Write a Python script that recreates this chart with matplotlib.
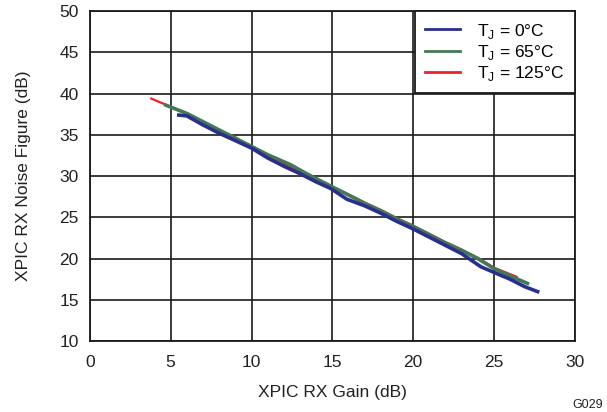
import numpy as np
import matplotlib.pyplot as plt

plt.rcParams['font.family'] = ['Liberation Sans', 'DejaVu Sans']
plt.rcParams['mathtext.fontset'] = 'custom'
plt.rcParams['mathtext.rm'] = 'Liberation Sans'

# T_J = 0 C
gain_0 = [5.5, 6.0, 7.0, 8.0, 9.0, 10.0, 11.0, 12.0, 13.0, 14.0, 14.9, 15.9, 17.0, 18.0,
          19.0, 20.0, 21.0, 22.0, 23.0, 24.2, 25.4, 26.0, 26.9, 27.7]
nf_0 = [37.4, 37.3, 36.2, 35.2, 34.3, 33.4, 32.2, 31.2, 30.3, 29.3, 28.5, 27.2, 26.4, 25.5,
        24.5, 23.6, 22.6, 21.6, 20.6, 19.0, 18.0, 17.5, 16.6, 16.0]
# T_J = 65 C
gain_65 = [4.7, 6.0, 7.0, 8.0, 9.0, 10.0, 11.0, 12.4, 13.5, 14.9, 16.0, 17.0, 18.0, 19.0,
           20.0, 21.0, 22.0, 23.0, 24.0, 25.0, 26.0, 27.07]
nf_65 = [38.6, 37.6, 36.6, 35.6, 34.6, 33.6, 32.6, 31.4, 30.2, 28.8, 27.7, 26.7, 25.8, 24.8,
         23.9, 22.9, 21.9, 21.0, 20.0, 18.8, 17.9, 17.0]
# T_J = 125 C
gain_125 = [3.8, 5.0, 6.0, 7.0, 8.0, 9.0, 10.0, 11.0, 12.0, 13.0, 14.0, 15.0, 16.0, 17.0,
            18.0, 19.0, 20.0, 21.0, 22.0, 23.0, 24.0, 25.0, 26.4]
nf_125 = [39.4, 38.4, 37.6, 36.6, 35.6, 34.7, 33.5, 32.5, 31.5, 30.5, 29.6, 28.7, 27.8, 26.8,
          25.9, 24.9, 24.0, 23.0, 22.0, 21.1, 20.1, 18.9, 17.8]

labels = ['T$_\\mathregular{J}$ = 0°C', 'T$_\\mathregular{J}$ = 65°C', 'T$_\\mathregular{J}$ = 125°C']

fig = plt.figure(figsize=(6.07, 4.12), dpi=100)
ax = fig.add_axes([0.148, 0.172, 0.799, 0.801])

l125, = ax.plot(gain_125, nf_125, color='#ee2028', lw=1.6, zorder=3)
l65, = ax.plot(gain_65, nf_65, color='#437a55', lw=2.6, zorder=4)
l0, = ax.plot(gain_0, nf_0, color='#2a2e8e', lw=2.6, zorder=5)

ax.set_xlim(0, 30)
ax.set_ylim(10, 50)
ax.set_xticks(np.arange(0, 31, 5))
ax.set_yticks(np.arange(10, 51, 5))
ax.grid(True, color='#1a1a1a', lw=1.2)
ax.tick_params(length=0, labelsize=12.5, colors='#222222')
ax.tick_params(axis='x', pad=10)
ax.tick_params(axis='y', pad=8)
for s in ax.spines.values():
    s.set_color('#1a1a1a')
    s.set_linewidth(1.3)

ax.set_xlabel('XPIC RX Gain (dB)', fontsize=12.5, color='#222222', labelpad=11)
ax.set_ylabel('XPIC RX Noise Figure (dB)', fontsize=12.5, color='#222222', labelpad=20)

leg = ax.legend([l0, l65, l125], labels,
                loc='upper right', bbox_to_anchor=(1.0, 1.0), fontsize=12.5, fancybox=False,
                framealpha=1, edgecolor='#1a1a1a', handlelength=2.0, borderaxespad=0,
                borderpad=0.6, labelspacing=0.12, handletextpad=1.0)
leg.get_frame().set_linewidth(1.3)
for h in leg.get_lines():
    h.set_linewidth(2)

fig.text(0.993, 0.01, 'G029', fontsize=9, ha='right', va='baseline', color='#222222')

plt.savefig('out.png', dpi=100)
